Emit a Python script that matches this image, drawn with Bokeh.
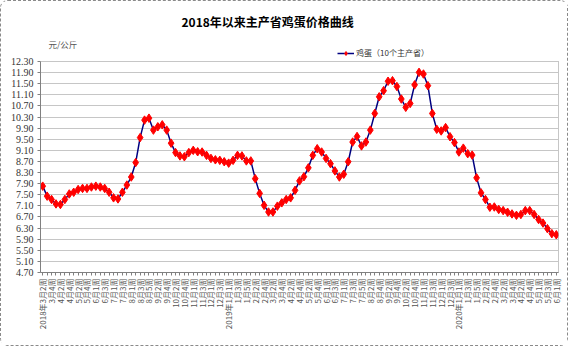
import math
from bokeh.plotting import figure
from bokeh.models import (FixedTicker, PrintfTickFormatter, LinearAxis, Range1d,
                          Label, Legend, LegendItem)
from bokeh.embed import file_html
from bokeh.resources import INLINE

weeks = [
    "2018年3月2周", "3月3周", "3月4周",
    "4月1周", "4月2周", "4月3周", "4月4周",
    "5月1周", "5月2周", "5月3周", "5月4周", "5月5周",
    "6月1周", "6月2周", "6月3周", "6月4周",
    "7月1周", "7月2周", "7月3周", "7月4周",
    "8月1周", "8月2周", "8月3周", "8月4周", "8月5周",
    "9月1周", "9月2周", "9月3周", "9月4周",
    "10月1周", "10月2周", "10月3周", "10月4周", "10月5周",
    "11月1周", "11月2周", "11月3周", "11月4周",
    "12月1周", "12月2周", "12月3周", "12月4周",
    "2019年1月1周", "1月2周", "1月3周", "1月4周", "1月5周",
    "2月1周", "2月2周", "2月3周", "2月4周",
    "3月1周", "3月2周", "3月3周", "3月4周",
    "4月1周", "4月2周", "4月3周", "4月4周",
    "5月1周", "5月2周", "5月3周", "5月4周", "5月5周",
    "6月1周", "6月2周", "6月3周", "6月4周",
    "7月1周", "7月2周", "7月3周", "7月4周", "7月5周",
    "8月1周", "8月2周", "8月3周", "8月4周",
    "9月1周", "9月2周", "9月3周", "9月4周",
    "10月1周", "10月2周", "10月3周", "10月4周", "10月5周",
    "11月1周", "11月2周", "11月3周", "11月4周",
    "12月1周", "12月2周", "12月3周", "12月4周",
    "2020年1月1周", "1月2周", "1月3周", "1月4周", "1月5周",
    "2月1周", "2月2周", "2月3周", "2月4周",
    "3月1周", "3月2周", "3月3周", "3月4周",
    "4月1周", "4月2周", "4月3周", "4月4周", "4月5周",
    "5月1周", "5月2周", "5月3周", "5月4周",
    "6月1周",
]

prices = [
    7.81, 7.45, 7.33, 7.17, 7.15, 7.33, 7.53, 7.59, 7.69, 7.73,
    7.73, 7.78, 7.81, 7.78, 7.73, 7.59, 7.39, 7.35, 7.59, 7.85,
    8.14, 8.66, 9.56, 10.19, 10.26, 9.83, 9.95, 10.02, 9.83, 9.36,
    9.02, 8.90, 8.87, 9.02, 9.10, 9.05, 9.04, 8.92, 8.81, 8.76,
    8.74, 8.69, 8.64, 8.74, 8.92, 8.90, 8.72, 8.72, 8.08, 7.55,
    7.12, 6.88, 6.88, 7.09, 7.21, 7.33, 7.39, 7.66, 8.00, 8.15,
    8.47, 8.92, 9.16, 9.04, 8.81, 8.62, 8.36, 8.14, 8.24, 8.69,
    9.40, 9.60, 9.26, 9.40, 9.83, 10.43, 11.03, 11.25, 11.59, 11.61,
    11.40, 10.95, 10.65, 10.79, 11.46, 11.91, 11.85, 11.43, 10.43, 9.86,
    9.80, 9.92, 9.59, 9.38, 9.04, 9.18, 8.98, 8.93, 8.11, 7.57,
    7.33, 7.05, 7.06, 6.97, 6.93, 6.87, 6.81, 6.76, 6.79, 6.93,
    6.93, 6.79, 6.61, 6.48, 6.28, 6.10, 6.06,
]

y_ticks = [4.70, 5.10, 5.50, 5.90, 6.30, 6.70, 7.10, 7.50, 7.90, 8.30,
           8.70, 9.10, 9.50, 9.90, 10.30, 10.70, 11.10, 11.50, 11.90, 12.30]

title_text = "2018年以来主产省鸡蛋价格曲线"
unit_text = "元/公斤"
series_name = "鸡蛋（10个主产省）"

n = len(prices)
x = list(range(n))

CJK = "Noto Sans CJK SC"

p = figure(width=568, height=346, output_backend="svg", toolbar_location=None,
           x_range=Range1d(-0.5, n - 0.5), y_range=Range1d(y_ticks[0], 13.274),
           min_border_left=39, min_border_right=11, min_border_top=33,
           min_border_bottom=75, background_fill_color="white",
           border_fill_color="white", outline_line_color=None)
p.styles = {"border": "1px dashed #8a8a8a", "border-radius": "8px"}

p.title.text = title_text
p.title.align = "left"
p.title.offset = 141
p.title.text_font = CJK
p.title.text_font_size = "12px"
p.title.text_font_style = "bold"
p.title.text_color = "#000000"

# grid
p.xgrid.visible = False
p.ygrid.ticker = FixedTicker(ticks=y_ticks)
p.ygrid.grid_line_color = "#8c8c8c"
p.ygrid.grid_line_dash = "1 1"
p.ygrid.grid_line_width = 1

# y axis
ya = p.yaxis[0]
ya.ticker = FixedTicker(ticks=y_ticks)
ya.formatter = PrintfTickFormatter(format="%.2f")
ya.bounds = (y_ticks[0], y_ticks[-1])
ya.major_tick_out = 3
ya.major_tick_in = 0
ya.minor_tick_out = 0
ya.minor_tick_in = 0
ya.axis_line_color = "#808080"
ya.major_tick_line_color = "#808080"
ya.major_label_text_font = "Liberation Serif"
ya.major_label_text_font_size = "10px"
ya.major_label_text_color = "#333333"
ya.major_label_standoff = 4

# x axis
xa = p.xaxis[0]
xa.ticker = FixedTicker(ticks=[i for i in x if i % 2 == 0],
                        minor_ticks=[i for i in x if i % 2 == 1])
xa.major_label_overrides = {i: weeks[i] for i in x if i % 2 == 0}
xa.major_label_orientation = math.pi / 2
xa.major_label_text_font = CJK
xa.major_label_text_font_size = "8px"
xa.major_label_text_color = "#555555"
xa.major_label_standoff = 3
xa.major_tick_out = 3
xa.major_tick_in = 0
xa.minor_tick_out = 3
xa.minor_tick_in = 0
xa.axis_line_color = "#808080"
xa.major_tick_line_color = "#808080"
xa.minor_tick_line_color = "#808080"

# right dotted edge
ra = LinearAxis(ticker=FixedTicker(ticks=[]), bounds=(y_ticks[0], y_ticks[-1]),
                axis_line_color="#8c8c8c", axis_line_dash="1 1",
                major_label_text_font_size="0px", major_tick_out=0,
                major_tick_in=0, minor_tick_out=0, minor_tick_in=0)
p.add_layout(ra, "right")

r_line = p.line(x, prices, line_color="#000080", line_width=1.5)
r_pts = p.scatter(x, prices, marker="diamond", size=8.5,
                  fill_color="#ff0000", line_color="#ff0000")

legend = Legend(items=[LegendItem(label=series_name, renderers=[r_line, r_pts])],
                location=(297, 214), glyph_width=17, glyph_height=10,
                label_height=10, label_standoff=2, padding=0, margin=0,
                spacing=0, border_line_color=None, background_fill_alpha=0,
                label_text_font=CJK, label_text_font_size="8px",
                label_text_color="#333333")
p.add_layout(legend)

unit = Label(x=1.3, y=12.92, text=unit_text, text_font=CJK,
             text_font_size="8.5px", text_color="#555555",
             text_baseline="middle", text_align="left")
p.add_layout(unit)

open("out.html", "w").write(file_html(p, INLINE))
